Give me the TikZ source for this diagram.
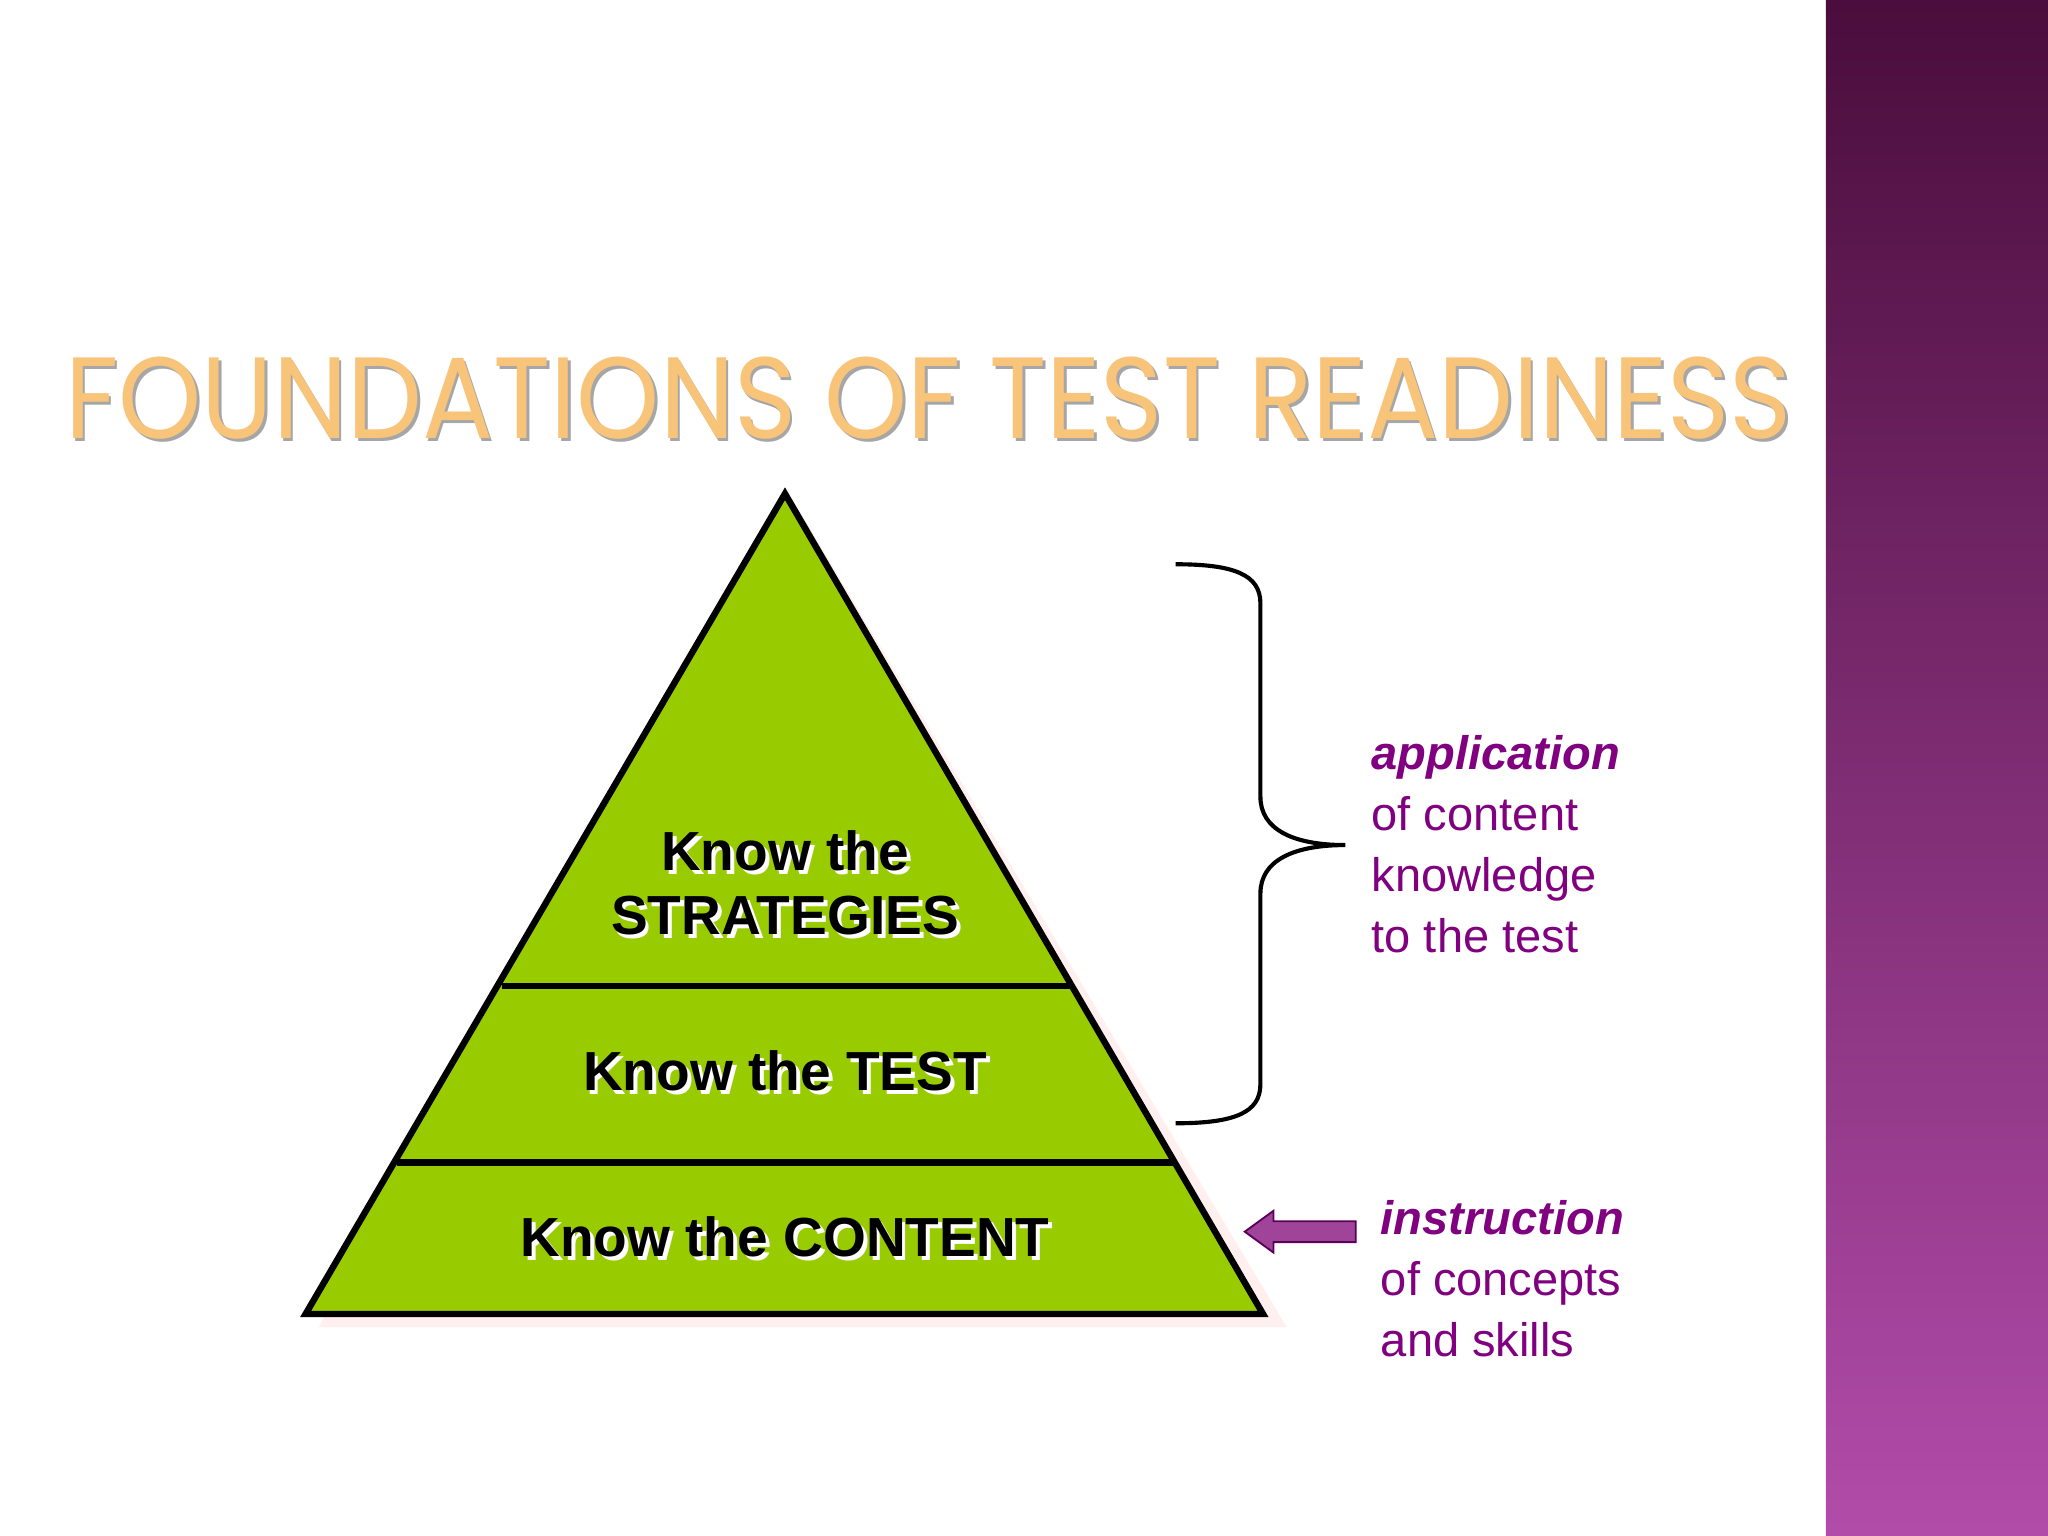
\documentclass[tikz,border=0pt]{standalone}
\usepackage{fontspec}
\setmainfont{Liberation Sans}
\newfontfamily\titlefont{Poppins}
\usetikzlibrary{shapes.arrows,decorations.pathreplacing}
\definecolor{pgreen}{HTML}{99CC00}
\definecolor{ptext}{HTML}{800080}
\definecolor{barTop}{HTML}{4A0D3C}
\definecolor{barBot}{HTML}{B24CAA}
\definecolor{torange}{HTML}{F8C47A}
\tikzset{
  lvl/.style={font=\bfseries\fontsize{24}{28}\selectfont, align=center, text=black},
  lvlsh/.style={font=\bfseries\fontsize{24}{28}\selectfont, align=center, text=white},
  side/.style={font=\fontsize{20.5}{26.5}\selectfont, align=left, text=ptext, anchor=north west},
}
\newcommand{\PX}[2]{(#1*0.02,-#2*0.02)}
\begin{document}
\begin{tikzpicture}[x=0.02cm,y=-0.02cm]
\useasboundingbox (0,0) rectangle (1568,1176);
\fill[white] (0,0) rectangle (1568,1176);
\shade[top color=barTop, bottom color=barBot] (1398,0) rectangle (1568,1176);
% title
\node[text=gray!70, font=\titlefont] at (713,307) {\resizebox{26.44cm}{1.25cm}{FOUNDATIONS OF TEST READINESS}};
\node[text=torange, font=\titlefont] (title) at (711,305) {\resizebox{26.44cm}{1.25cm}{FOUNDATIONS OF TEST READINESS}};
% pyramid
\coordinate (apex) at (601,378);
\coordinate (bl) at (234,1006);
\coordinate (br) at (967,1006);
\fill[pink!25] (609,386) -- (985,1016) -- (244,1016) -- cycle;
\fill[pgreen] (apex) -- (br) -- (bl) -- cycle;
\draw[line width=2.8pt, line join=miter] (apex) -- (br) -- (bl) -- cycle;
\draw[line width=2.8pt] (384,755) -- (820,755);
\draw[line width=2.8pt] (304,890) -- (898,890);
\node[lvlsh] at (604,679) {Know the\\STRATEGIES};
\node[lvl] (s) at (601,676) {Know the\\STRATEGIES};
\node[lvlsh] at (604,823) {Know the TEST};
\node[lvl] (t) at (601,820) {Know the TEST};
\node[lvlsh] at (604,950) {Know the CONTENT};
\node[lvl] (c) at (601,947) {Know the CONTENT};
% brace
\draw[line width=1.8pt] (900,432) .. controls (945,432) and (965,440) .. (965,462)
  -- (965,610) .. controls (965,635) and (990,647) .. (1030,647)
  .. controls (990,647) and (965,659) .. (965,684)
  -- (965,830) .. controls (965,852) and (945,860) .. (900,860);
% side texts
\node[side] (app) at (1044,557) {\textbf{\textit{application}}\\of content\\knowledge\\to the test};
\node[side] (ins) at (1051,913) {\textbf{\textit{instruction}}\\of concepts\\and skills};
% arrow
\fill[barBot!90!black, draw=ptext!70!black, line width=0.8pt]
  (1038,935) -- (975,935) -- (975,927) -- (953,943) -- (975,959) -- (975,951) -- (1038,951) -- cycle;
\end{tikzpicture}
\end{document}
